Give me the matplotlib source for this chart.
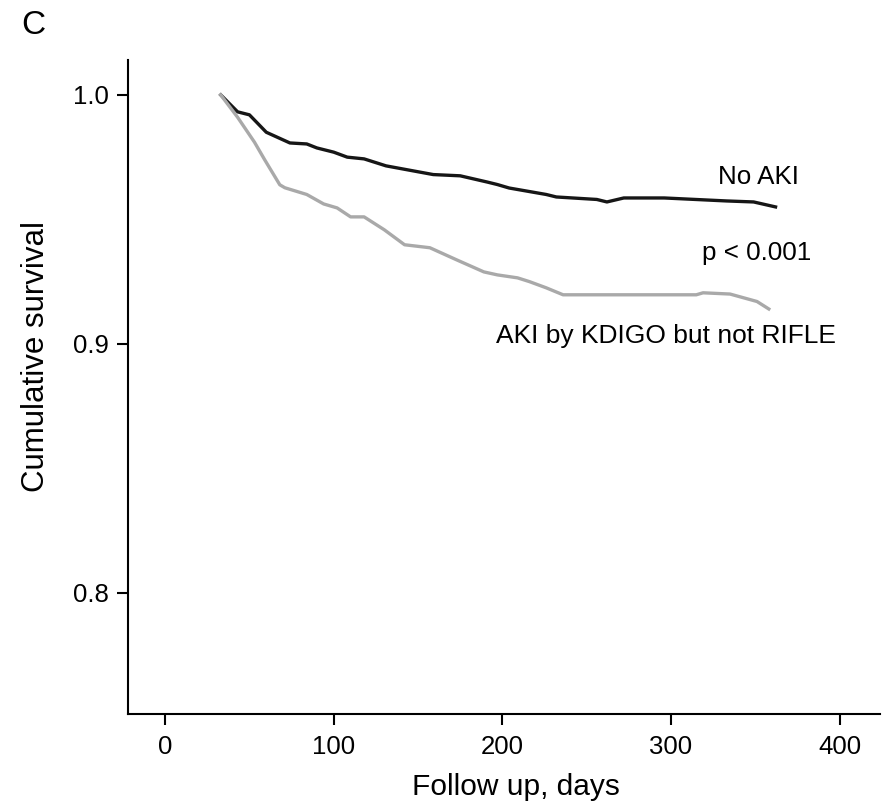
import matplotlib.pyplot as plt

plt.rcParams['font.family'] = ['Liberation Sans', 'DejaVu Sans']

# Kaplan-Meier estimates (days, cumulative survival)
no_aki_days = [33, 43, 50, 60, 74, 84, 90, 100, 108, 118, 131, 147, 159, 175, 191,
               197, 204, 226, 232, 256, 262, 272, 296, 333, 349, 362]
no_aki_surv = [1.000, 0.9932, 0.992, 0.985, 0.9807, 0.9803, 0.9787, 0.977, 0.975,
               0.9743, 0.9715, 0.9695, 0.968, 0.9675, 0.965, 0.964, 0.9626, 0.960,
               0.959, 0.958, 0.957, 0.9586, 0.9586, 0.9574, 0.957, 0.955]

kdigo_days = [33, 43, 53, 59, 68, 71, 84, 94, 102, 110, 118, 130, 142, 157, 173, 189,
              197, 209, 216, 226, 236, 276, 315, 319, 335, 351, 358]
kdigo_surv = [1.000, 0.991, 0.981, 0.974, 0.9639, 0.9627, 0.960, 0.9562, 0.9546,
              0.951, 0.951, 0.9458, 0.9398, 0.9386, 0.9337, 0.9289, 0.9277, 0.9265,
              0.925, 0.9225, 0.9197, 0.9197, 0.9197, 0.9205, 0.920, 0.917, 0.914]

x_ticks = [0, 100, 200, 300, 400]
y_ticks = [0.8, 0.9, 1.0]

fig = plt.figure(figsize=(8.89, 8.01), dpi=100)
ax = fig.add_axes([0.144, 0.109, 0.846, 0.816])

ax.plot(no_aki_days, no_aki_surv, color='#161616', lw=2.4, solid_joinstyle='round')
ax.plot(kdigo_days, kdigo_surv, color='#a9a9a9', lw=2.4, solid_joinstyle='round')

ax.text(352, 0.9672, 'No AKI', fontsize=18.7, ha='center', va='center')
ax.text(351, 0.9365, 'p < 0.001', fontsize=18.7, ha='center', va='center')
ax.text(297, 0.9030, 'AKI by KDIGO but not RIFLE', fontsize=19, ha='center', va='center')

ax.set_xlim(-22, 424)
ax.set_ylim(0.7514, 1.014)
ax.set_xticks(x_ticks)
ax.set_yticks(y_ticks)
ax.set_yticklabels(['0.8', '0.9', '1.0'])
ax.tick_params(direction='out', length=8, width=1.5, labelsize=18.5)
ax.tick_params(axis='y', pad=6)
ax.tick_params(axis='x', pad=7)

for side in ['top', 'right']:
    ax.spines[side].set_visible(False)
for side in ['left', 'bottom']:
    ax.spines[side].set_linewidth(1.5)

ax.set_xlabel('Follow up, days', fontsize=21.5)
ax.xaxis.set_label_coords(0.516, -0.090)
ax.set_ylabel('Cumulative survival', fontsize=22.5, va='center')
ax.yaxis.set_label_coords(-0.122, 0.547)

fig.text(0.024, 0.968, 'C', fontsize=24, ha='left', va='center')

fig.savefig('out.png', dpi=100, facecolor='white')
